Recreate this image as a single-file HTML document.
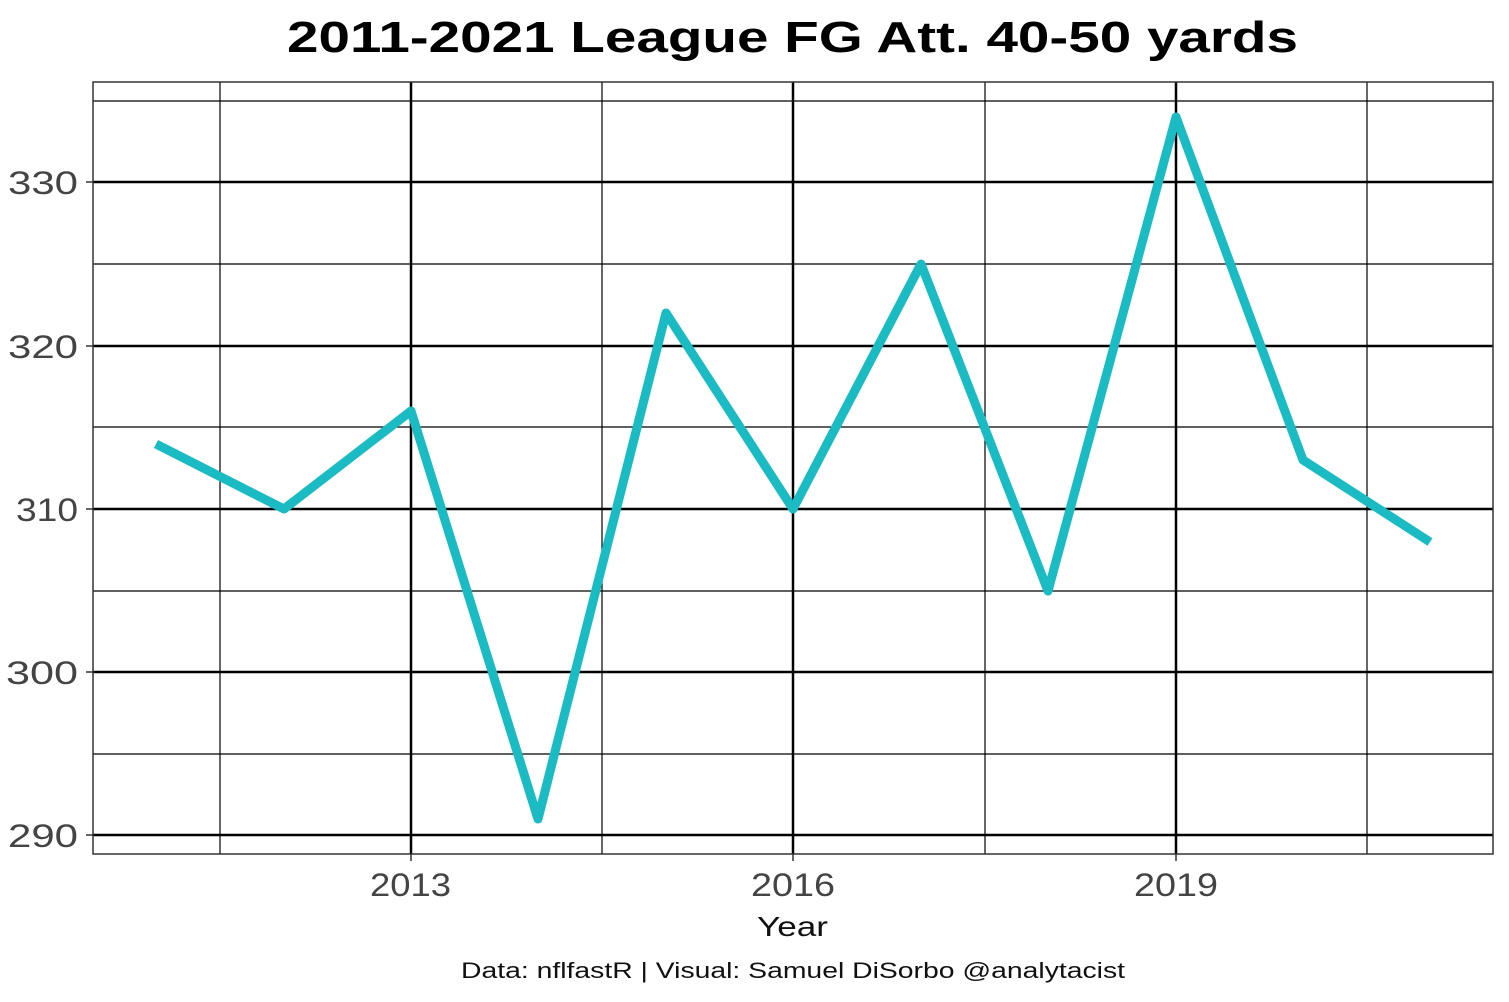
<!DOCTYPE html>
<html><head><meta charset="utf-8"><style>
html,body{margin:0;padding:0;background:#fff;}
svg{display:block;}
text{font-family:"Liberation Sans",sans-serif;}
</style></head><body>
<svg width="1509" height="1002" viewBox="0 0 1509 1002" xmlns="http://www.w3.org/2000/svg">
<rect width="1509" height="1002" fill="#fff"/>
<text x="287" y="52" font-size="44" font-weight="bold" fill="#000" textLength="1011" lengthAdjust="spacingAndGlyphs">2011-2021 League FG Att. 40-50 yards</text>
<g stroke="#000" stroke-width="1.2">
<line x1="93" x2="1493" y1="101" y2="101"/>
<line x1="93" x2="1493" y1="264" y2="264"/>
<line x1="93" x2="1493" y1="427" y2="427"/>
<line x1="93" x2="1493" y1="591" y2="591"/>
<line x1="93" x2="1493" y1="754" y2="754"/>
<line x1="220" x2="220" y1="82" y2="854"/>
<line x1="602" x2="602" y1="82" y2="854"/>
<line x1="985" x2="985" y1="82" y2="854"/>
<line x1="1367" x2="1367" y1="82" y2="854"/>
</g>
<g stroke="#000" stroke-width="2.5">
<line x1="93" x2="1493" y1="182" y2="182"/>
<line x1="93" x2="1493" y1="346" y2="346"/>
<line x1="93" x2="1493" y1="509" y2="509"/>
<line x1="93" x2="1493" y1="672" y2="672"/>
<line x1="93" x2="1493" y1="835" y2="835"/>
<line x1="411" x2="411" y1="82" y2="854"/>
<line x1="793" x2="793" y1="82" y2="854"/>
<line x1="1176" x2="1176" y1="82" y2="854"/>
</g>
<rect x="93" y="82" width="1400" height="772" fill="none" stroke="#333" stroke-width="1.5"/>
<g stroke="#333" stroke-width="1.5">
<line x1="86" x2="93" y1="182" y2="182"/><line x1="86" x2="93" y1="346" y2="346"/>
<line x1="86" x2="93" y1="509" y2="509"/><line x1="86" x2="93" y1="672" y2="672"/>
<line x1="86" x2="93" y1="835" y2="835"/>
<line x1="411" x2="411" y1="854" y2="861"/><line x1="793" x2="793" y1="854" y2="861"/>
<line x1="1176" x2="1176" y1="854" y2="861"/>
</g>
<polyline fill="none" stroke="#1ABBC3" stroke-width="9" stroke-linejoin="round" points="156,444 284,509 411,411 538,819 666,313 793,509 921,264 1048,591 1176,117 1303,460 1430,542"/>
<g font-size="32" fill="#444">
<text x="8" y="194" textLength="70" lengthAdjust="spacingAndGlyphs">330</text>
<text x="8" y="358" textLength="70" lengthAdjust="spacingAndGlyphs">320</text>
<text x="16" y="521" textLength="62" lengthAdjust="spacingAndGlyphs">310</text>
<text x="6" y="684" textLength="72" lengthAdjust="spacingAndGlyphs">300</text>
<text x="8" y="847" textLength="70" lengthAdjust="spacingAndGlyphs">290</text>
</g>
<g font-size="32" fill="#444">
<text x="370" y="896" textLength="81" lengthAdjust="spacingAndGlyphs">2013</text>
<text x="751" y="896" textLength="84" lengthAdjust="spacingAndGlyphs">2016</text>
<text x="1134" y="896" textLength="84" lengthAdjust="spacingAndGlyphs">2019</text>
</g>
<text x="757" y="936" font-size="28" fill="#111" textLength="71" lengthAdjust="spacingAndGlyphs">Year</text>
<text x="461" y="978" font-size="22" fill="#111" textLength="664" lengthAdjust="spacingAndGlyphs">Data: nflfastR | Visual: Samuel DiSorbo @analytacist</text>
</svg>
</body></html>
